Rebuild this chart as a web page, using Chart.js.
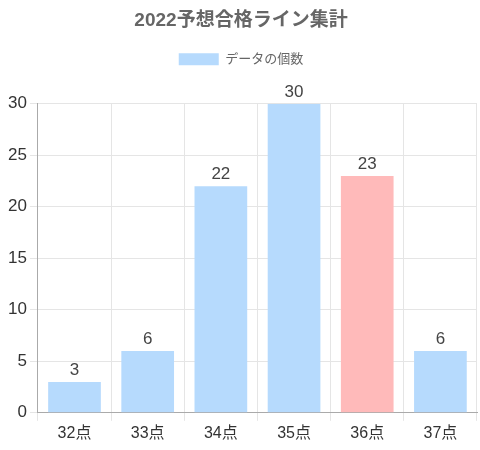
<!DOCTYPE html>
<html>
<head>
<meta charset="utf-8">
<script src="https://cdn.jsdelivr.net/npm/chart.js@4"></script>
<style>
  html, body { margin: 0; padding: 0; background: #fff; }
  #wrap { width: 480px; height: 450px; }
</style>
</head>
<body>
<div id="wrap"><canvas id="lineChart"></canvas></div>
<script>
const labels = ["32点", "33点", "34点", "35点", "36点", "37点"];
const counts = [3, 6, 22, 30, 23, 6];
const barColors = ["#b6dafd", "#b6dafd", "#b6dafd", "#b6dafd", "#ffbaba", "#b6dafd"];
const yTicks = [0, 5, 10, 15, 20, 25, 30];

const FONT = "'Liberation Sans', Arial, 'Noto Sans CJK JP', sans-serif";
Chart.defaults.font.family = FONT;

// 棒の上に値を描く
const valueLabels = {
  id: "valueLabels",
  afterDatasetsDraw(chart) {
    const ctx = chart.ctx;
    const meta = chart.getDatasetMeta(0);
    ctx.save();
    ctx.font = "17px " + FONT;
    ctx.fillStyle = "#444";
    ctx.textAlign = "center";
    ctx.textBaseline = "alphabetic";
    meta.data.forEach((bar, i) => {
      ctx.fillText(counts[i], bar.x, bar.y - 7);
    });
    ctx.restore();
  }
};

// 凡例の下に余白を足す
const legendGap = {
  id: "legendGap",
  beforeInit(chart) {
    const fit = chart.legend.fit;
    chart.legend.fit = function () {
      fit.bind(chart.legend)();
      this.height += 28;
    };
  }
};

const ctx = document.getElementById("lineChart").getContext("2d");
new Chart(ctx, {
  type: "bar",
  data: {
    labels: labels,
    datasets: [{
      label: "データの個数",
      data: counts,
      backgroundColor: barColors,
      borderWidth: 0
    }]
  },
  options: {
    responsive: true,
    maintainAspectRatio: false,
    animation: false,
    layout: { padding: { top: 0, right: 3, left: 5, bottom: 4 } },
    plugins: {
      title: {
        display: true,
        text: "2022予想合格ライン集計",
        color: "#666",
        font: { size: 19, weight: "bold" },
        padding: { top: 9, bottom: 11 }
      },
      legend: {
        labels: {
          color: "#666",
          boxWidth: 40,
          boxHeight: 12,
          font: { size: 13 },
          padding: 10,
          generateLabels: () => [{
            text: "データの個数",
            fillStyle: "#b6dafd",
            strokeStyle: "#b6dafd",
            lineWidth: 0,
            fontColor: "#666"
          }]
        }
      },
      tooltip: { enabled: false }
    },
    scales: {
      x: {
        grid: { color: "#e5e5e5", tickLength: 8 },
        border: { color: "#aaa" },
        ticks: { color: "#333", font: { size: 16 } }
      },
      y: {
        min: 0,
        max: 30,
        afterBuildTicks: axis => { axis.ticks = yTicks.map(v => ({ value: v })); },
        grid: { color: "#e5e5e5", tickLength: 8 },
        border: { color: "#aaa" },
        ticks: { color: "#333", font: { size: 17 } }
      }
    }
  },
  plugins: [valueLabels, legendGap]
});
</script>
</body>
</html>
